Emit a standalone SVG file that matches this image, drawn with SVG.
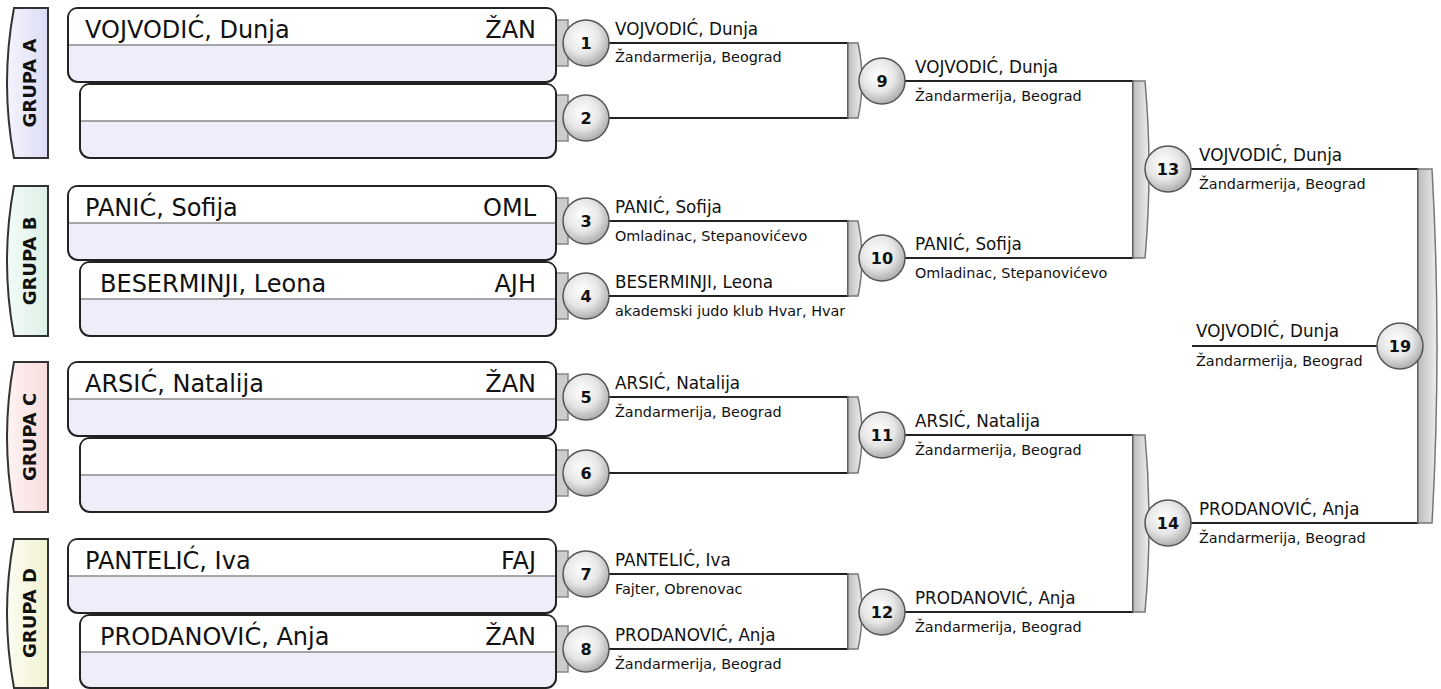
<svg xmlns="http://www.w3.org/2000/svg" width="1441" height="689" viewBox="0 0 1441 689">
<defs>
<radialGradient id="ball" cx="0.42" cy="0.38" r="0.65">
<stop offset="0" stop-color="#ffffff"/><stop offset="0.55" stop-color="#e6e6e6"/><stop offset="1" stop-color="#a8a8a8"/>
</radialGradient>
<linearGradient id="brk" x1="0" y1="0" x2="1" y2="0">
<stop offset="0" stop-color="#bcbcbc"/><stop offset="1" stop-color="#eeeeee"/>
</linearGradient>
<linearGradient id="gA" x1="0" y1="0" x2="1" y2="0"><stop offset="0" stop-color="#f4f4fd"/><stop offset="1" stop-color="#dcdcf6"/></linearGradient>
<linearGradient id="gB" x1="0" y1="0" x2="1" y2="0"><stop offset="0" stop-color="#f4fbf7"/><stop offset="1" stop-color="#dcf0e6"/></linearGradient>
<linearGradient id="gC" x1="0" y1="0" x2="1" y2="0"><stop offset="0" stop-color="#fdf3f3"/><stop offset="1" stop-color="#f8dcdc"/></linearGradient>
<linearGradient id="gD" x1="0" y1="0" x2="1" y2="0"><stop offset="0" stop-color="#fcfcf2"/><stop offset="1" stop-color="#f2f2d2"/></linearGradient>
</defs>
<style>
text{font-family:"DejaVu Sans","Liberation Sans",sans-serif;fill:#111}
.tab{stroke:#333;stroke-width:2}
.gl{font-size:18px;font-weight:bold;text-anchor:middle}
.box{fill:#eeeefb;stroke:#222;stroke-width:2}
.top{fill:#ffffff}
.div{stroke:#8a8a8a;stroke-width:1.5}
.bn{font-size:24px}
.bc{font-size:24px;text-anchor:end}
.ln{fill:none;stroke:#222;stroke-width:2}
.br{fill:url(#brk);stroke:#777;stroke-width:1.5}
.stub{fill:#cccccc;stroke:#888;stroke-width:1.5}
.ball{fill:url(#ball);stroke:#555;stroke-width:1.5}
.num{font-size:16px;font-weight:bold;text-anchor:middle}
.wn{font-size:16.8px}
.wc{font-size:14.4px}
</style>

<g id="groups">
<g id="grupa-a"><path class="tab" fill="url(#gA)" d="M48,8 L14,8 Q0,83 14,158 L48,158 Z"/><text class="gl" transform="translate(36,83) rotate(-90)">GRUPA A</text></g>
<g id="grupa-b"><path class="tab" fill="url(#gB)" d="M48,186 L14,186 Q0,261 14,336 L48,336 Z"/><text class="gl" transform="translate(36,261) rotate(-90)">GRUPA B</text></g>
<g id="grupa-c"><path class="tab" fill="url(#gC)" d="M48,362 L14,362 Q0,437 14,512 L48,512 Z"/><text class="gl" transform="translate(36,437) rotate(-90)">GRUPA C</text></g>
<g id="grupa-d"><path class="tab" fill="url(#gD)" d="M48,539 L14,539 Q0,613 14,688 L48,688 Z"/><text class="gl" transform="translate(36,613) rotate(-90)">GRUPA D</text></g>
</g>

<g id="connectors">
<path class="stub" d="M556,20 H568 V66 H556 Z"/>
<path class="stub" d="M556,95 H568 V141 H556 Z"/>
<path class="stub" d="M556,198 H568 V244 H556 Z"/>
<path class="stub" d="M556,273 H568 V319 H556 Z"/>
<path class="stub" d="M556,374 H568 V420 H556 Z"/>
<path class="stub" d="M556,450 H568 V496 H556 Z"/>
<path class="stub" d="M556,551 H568 V597 H556 Z"/>
<path class="stub" d="M556,626 H568 V672 H556 Z"/>
<path class="ln" d="M587,43 H848 V118 H587"/>
<path class="br" d="M848,43 H858 Q866,80.5 858,118 H848 Z"/>
<path class="ln" d="M587,221 H848 V296 H587"/>
<path class="br" d="M848,221 H858 Q866,258.5 858,296 H848 Z"/>
<path class="ln" d="M587,397 H848 V473 H587"/>
<path class="br" d="M848,397 H858 Q866,435 858,473 H848 Z"/>
<path class="ln" d="M587,574 H848 V649 H587"/>
<path class="br" d="M848,574 H858 Q866,611.5 858,649 H848 Z"/>
<path class="ln" d="M882,81 H1133 V258 H882"/>
<path class="br" d="M1133,81 H1145 Q1153,169.5 1145,258 H1133 Z"/>
<path class="ln" d="M882,435 H1133 V612 H882"/>
<path class="br" d="M1133,435 H1145 Q1153,523.5 1145,612 H1133 Z"/>
<path class="ln" d="M1168,169 H1418 V523 H1168"/>
<path class="br" d="M1418,169 H1432 Q1442,346 1432,523 H1418 Z"/>
<path class="ln" d="M1192,346 H1400"/>
</g>

<g id="entries">
<g id="entry-1"><rect class="box" x="68" y="8" width="488" height="74" rx="10"/><path class="top" d="M78,9 H546 Q555,9 555,18 V45 H69 V18 Q69,9 78,9 Z"/><line class="div" x1="69" y1="45" x2="555" y2="45"/><text class="bn" x="85" y="38">VOJVODIĆ, Dunja</text><text class="bc" x="536" y="38">ŽAN</text></g>
<g id="entry-2"><rect class="box" x="80" y="84" width="476" height="74" rx="10"/><path class="top" d="M90,85 H546 Q555,85 555,94 V121 H81 V94 Q81,85 90,85 Z"/><line class="div" x1="81" y1="121" x2="555" y2="121"/></g>
<g id="entry-3"><rect class="box" x="68" y="186" width="488" height="74" rx="10"/><path class="top" d="M78,187 H546 Q555,187 555,196 V223 H69 V196 Q69,187 78,187 Z"/><line class="div" x1="69" y1="223" x2="555" y2="223"/><text class="bn" x="85" y="216">PANIĆ, Sofija</text><text class="bc" x="536" y="216">OML</text></g>
<g id="entry-4"><rect class="box" x="80" y="262" width="476" height="74" rx="10"/><path class="top" d="M90,263 H546 Q555,263 555,272 V299 H81 V272 Q81,263 90,263 Z"/><line class="div" x1="81" y1="299" x2="555" y2="299"/><text class="bn" x="100" y="292">BESERMINJI, Leona</text><text class="bc" x="536" y="292">AJH</text></g>
<g id="entry-5"><rect class="box" x="68" y="362" width="488" height="74" rx="10"/><path class="top" d="M78,363 H546 Q555,363 555,372 V399 H69 V372 Q69,363 78,363 Z"/><line class="div" x1="69" y1="399" x2="555" y2="399"/><text class="bn" x="85" y="392">ARSIĆ, Natalija</text><text class="bc" x="536" y="392">ŽAN</text></g>
<g id="entry-6"><rect class="box" x="80" y="438" width="476" height="74" rx="10"/><path class="top" d="M90,439 H546 Q555,439 555,448 V475 H81 V448 Q81,439 90,439 Z"/><line class="div" x1="81" y1="475" x2="555" y2="475"/></g>
<g id="entry-7"><rect class="box" x="68" y="539" width="488" height="74" rx="10"/><path class="top" d="M78,540 H546 Q555,540 555,549 V576 H69 V549 Q69,540 78,540 Z"/><line class="div" x1="69" y1="576" x2="555" y2="576"/><text class="bn" x="85" y="569">PANTELIĆ, Iva</text><text class="bc" x="536" y="569">FAJ</text></g>
<g id="entry-8"><rect class="box" x="80" y="615" width="476" height="73" rx="10"/><path class="top" d="M90,616 H546 Q555,616 555,625 V652 H81 V625 Q81,616 90,616 Z"/><line class="div" x1="81" y1="652" x2="555" y2="652"/><text class="bn" x="100" y="645">PRODANOVIĆ, Anja</text><text class="bc" x="536" y="645">ŽAN</text></g>
</g>

<g id="matches">
<g id="m1"><circle class="ball" cx="586" cy="43" r="23"/><text class="num" x="586" y="49">1</text><text class="wn" x="615" y="35">VOJVODIĆ, Dunja</text><text class="wc" x="615" y="62">Žandarmerija, Beograd</text></g>
<g id="m2"><circle class="ball" cx="586" cy="118" r="23"/><text class="num" x="586" y="124">2</text></g>
<g id="m3"><circle class="ball" cx="586" cy="221" r="23"/><text class="num" x="586" y="227">3</text><text class="wn" x="615" y="213">PANIĆ, Sofija</text><text class="wc" x="615" y="241">Omladinac, Stepanovićevo</text></g>
<g id="m4"><circle class="ball" cx="586" cy="296" r="23"/><text class="num" x="586" y="302">4</text><text class="wn" x="615" y="288">BESERMINJI, Leona</text><text class="wc" x="615" y="316">akademski judo klub Hvar, Hvar</text></g>
<g id="m5"><circle class="ball" cx="586" cy="397" r="23"/><text class="num" x="586" y="403">5</text><text class="wn" x="615" y="389">ARSIĆ, Natalija</text><text class="wc" x="615" y="417">Žandarmerija, Beograd</text></g>
<g id="m6"><circle class="ball" cx="586" cy="473" r="23"/><text class="num" x="586" y="479">6</text></g>
<g id="m7"><circle class="ball" cx="586" cy="574" r="23"/><text class="num" x="586" y="580">7</text><text class="wn" x="615" y="566">PANTELIĆ, Iva</text><text class="wc" x="615" y="594">Fajter, Obrenovac</text></g>
<g id="m8"><circle class="ball" cx="586" cy="649" r="23"/><text class="num" x="586" y="655">8</text><text class="wn" x="615" y="641">PRODANOVIĆ, Anja</text><text class="wc" x="615" y="669">Žandarmerija, Beograd</text></g>
<g id="m9"><circle class="ball" cx="882" cy="81" r="23"/><text class="num" x="882" y="87">9</text><text class="wn" x="915" y="73">VOJVODIĆ, Dunja</text><text class="wc" x="915" y="101">Žandarmerija, Beograd</text></g>
<g id="m10"><circle class="ball" cx="882" cy="258" r="23"/><text class="num" x="882" y="264">10</text><text class="wn" x="915" y="250">PANIĆ, Sofija</text><text class="wc" x="915" y="278">Omladinac, Stepanovićevo</text></g>
<g id="m11"><circle class="ball" cx="882" cy="435" r="23"/><text class="num" x="882" y="441">11</text><text class="wn" x="915" y="427">ARSIĆ, Natalija</text><text class="wc" x="915" y="455">Žandarmerija, Beograd</text></g>
<g id="m12"><circle class="ball" cx="882" cy="612" r="23"/><text class="num" x="882" y="618">12</text><text class="wn" x="915" y="604">PRODANOVIĆ, Anja</text><text class="wc" x="915" y="632">Žandarmerija, Beograd</text></g>
<g id="m13"><circle class="ball" cx="1168" cy="169" r="23"/><text class="num" x="1168" y="175">13</text><text class="wn" x="1199" y="161">VOJVODIĆ, Dunja</text><text class="wc" x="1199" y="189">Žandarmerija, Beograd</text></g>
<g id="m14"><circle class="ball" cx="1168" cy="523" r="23"/><text class="num" x="1168" y="529">14</text><text class="wn" x="1199" y="515">PRODANOVIĆ, Anja</text><text class="wc" x="1199" y="543">Žandarmerija, Beograd</text></g>
<g id="m19"><circle class="ball" cx="1400" cy="346" r="23"/><text class="num" x="1400" y="352">19</text><text class="wn" x="1196" y="337">VOJVODIĆ, Dunja</text><text class="wc" x="1196" y="366">Žandarmerija, Beograd</text></g>
</g>
</svg>
